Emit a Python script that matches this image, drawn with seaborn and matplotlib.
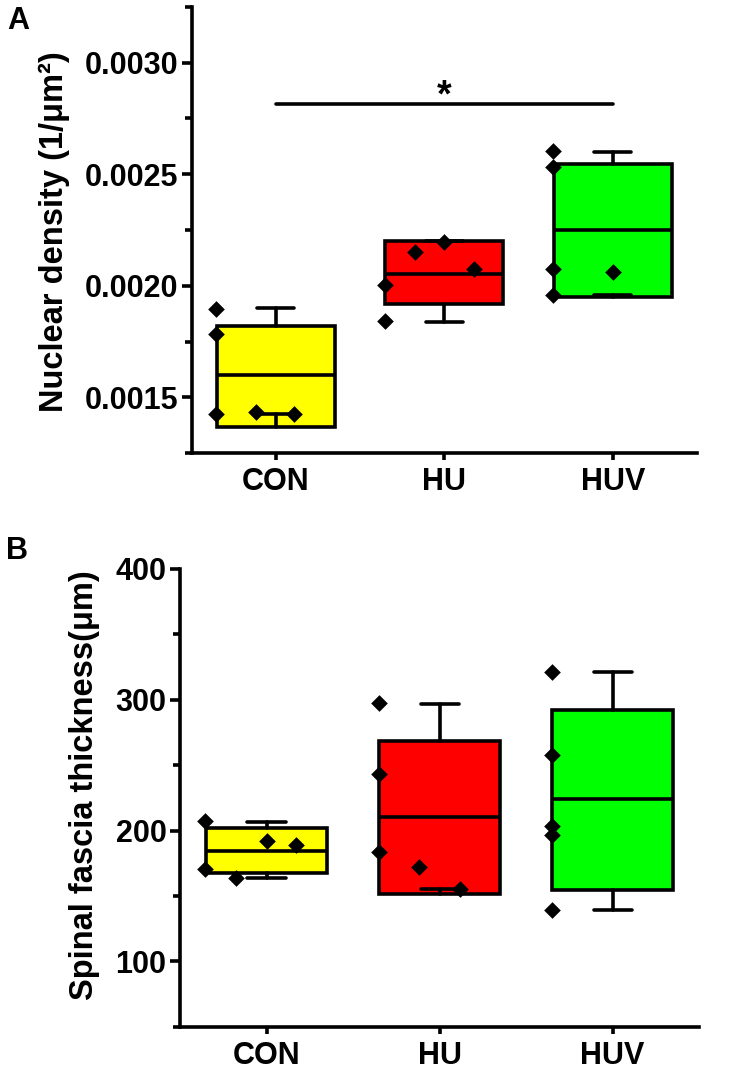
import numpy as np
import pandas as pd
import matplotlib
matplotlib.use("Agg")
import matplotlib.pyplot as plt
from matplotlib.ticker import FixedLocator
import seaborn as sns

# ---------------- data ----------------
categories = ["CON", "HU", "HUV"]
box_colors = ["#FFFF00", "#FF0000", "#00FF00"]

# Panel A: nuclear density (1/um^2) box statistics (Origin style: box 25-75%, whiskers min-max)
density_q1 = [0.00137, 0.00192, 0.00195]
density_med = [0.00160, 0.002055, 0.00225]
density_q3 = [0.00182, 0.00220, 0.002545]
density_lo = [0.001425, 0.00184, 0.00196]
density_hi = [0.00190, 0.00220, 0.00260]

# Panel A raw points
density_con = [0.001895, 0.001783, 0.001425, 0.001437, 0.001425]
density_hu = [0.002004, 0.001842, 0.002153, 0.002194, 0.002077]
density_huv = [0.002604, 0.002530, 0.002077, 0.001957, 0.002060]
density_con_off = [-0.355, -0.355, -0.355, -0.12, 0.11]
density_hu_off = [-0.352, -0.352, -0.176, 0.0, 0.174]
density_huv_off = [-0.354, -0.354, -0.354, -0.354, 0.0]
density_sig_y = 0.002812

# Panel B: spinal fascia thickness (um)
thick_q1 = [167.5, 151.5, 154.8]
thick_med = [184.6, 210.0, 224.1]
thick_q3 = [201.9, 268.8, 292.3]
thick_lo = [163.7, 155.3, 139.5]
thick_hi = [206.5, 297.0, 321.1]

thick_con = [207.0, 170.8, 163.7, 192.2, 189.2]
thick_hu = [297.4, 243.4, 183.3, 171.8, 155.5]
thick_huv = [321.1, 257.9, 203.7, 196.8, 139.5]
thick_con_off = [-0.354, -0.354, -0.177, 0.0, 0.172]
thick_hu_off = [-0.352, -0.352, -0.352, -0.118, 0.116]
thick_huv_off = [-0.35, -0.35, -0.35, -0.35, -0.35]

# ---------------- style ----------------
sns.set_style("ticks")
plt.rcParams['font.family'] = ['Liberation Sans', 'DejaVu Sans']
plt.rcParams['font.weight'] = 'bold'
for k in ['text.color', 'axes.labelcolor', 'xtick.color', 'ytick.color', 'axes.edgecolor']:
    plt.rcParams[k] = 'black'

LW = 2.6
FS_TICK = 22
FS_LABEL = 23.5

fig = plt.figure(figsize=(7.47, 10.78), dpi=100)
axA = fig.add_axes([0.2566, 0.5795, 0.6764, 0.4143])
axB = fig.add_axes([0.2410, 0.0476, 0.6948, 0.4246])


def draw_panel(ax, q1, med, q3, lo, hi, groups, offsets):
    stats = []
    for i in range(len(categories)):
        stats.append(dict(med=med[i], q1=q1[i], q3=q3[i], whislo=lo[i], whishi=hi[i], fliers=[]))
    bp = ax.bxp(stats, positions=list(range(len(categories))), widths=0.7,
                patch_artist=True, showfliers=False, manage_ticks=False,
                capwidths=0.22,
                boxprops=dict(edgecolor='black', linewidth=LW),
                medianprops=dict(color='black', linewidth=LW),
                whiskerprops=dict(color='black', linewidth=LW),
                capprops=dict(color='black', linewidth=LW, solid_capstyle='round'))
    for patch, c in zip(bp['boxes'], box_colors):
        patch.set_facecolor(c)
        patch.set_zorder(2)
    xs, ys = [], []
    for i, (vals, offs) in enumerate(zip(groups, offsets)):
        for v, o in zip(vals, offs):
            xs.append(i + o)
            ys.append(v)
    df = pd.DataFrame({"x": xs, "y": ys})
    sns.scatterplot(data=df, x="x", y="y", marker='D', s=72, color='black',
                    linewidth=0, ax=ax, zorder=5, legend=False)
    ax.set_xlim(-0.5, 2.5)
    ax.xaxis.set_major_locator(FixedLocator(range(len(categories))))
    ax.set_xticklabels(categories)
    ax.set_xlabel("")
    for s in ['top', 'right']:
        ax.spines[s].set_visible(False)
    for s in ['left', 'bottom']:
        ax.spines[s].set_linewidth(LW)
        ax.spines[s].set_color('black')
    ax.tick_params(axis='y', which='major', direction='out', length=7.2, width=LW,
                   labelsize=FS_TICK, pad=2.5, colors='black')
    ax.tick_params(axis='y', which='minor', direction='out', length=4.8, width=LW, colors='black')
    ax.tick_params(axis='x', which='major', direction='out', length=5.3, width=LW,
                   labelsize=FS_TICK, pad=4.8, colors='black')
    ax.tick_params(axis='x', which='minor', length=0)
    for lab in ax.get_xticklabels() + ax.get_yticklabels():
        lab.set_fontweight('bold')


# Panel A
draw_panel(axA, density_q1, density_med, density_q3, density_lo, density_hi,
           [density_con, density_hu, density_huv],
           [density_con_off, density_hu_off, density_huv_off])
axA.set_ylim(0.00125, 0.00325)
axA.yaxis.set_major_locator(FixedLocator([0.0015, 0.0020, 0.0025, 0.0030]))
axA.yaxis.set_minor_locator(FixedLocator([0.00125, 0.00175, 0.00225, 0.00275, 0.00325]))
axA.set_yticklabels(["0.0015", "0.0020", "0.0025", "0.0030"], fontweight='bold')
axA.set_ylabel("Nuclear density (1/\u03bcm\u00b2)", fontsize=FS_LABEL, fontweight='bold')
axA.yaxis.set_label_coords(-0.241, 0.496)
axA.plot([0, 2], [density_sig_y, density_sig_y], color='black', linewidth=LW,
         solid_capstyle='round', zorder=3)
axA.text(1, density_sig_y - 0.000008, "*", ha='center', va='baseline',
         fontsize=27, fontweight='bold', color='black')

# Panel B
draw_panel(axB, thick_q1, thick_med, thick_q3, thick_lo, thick_hi,
           [thick_con, thick_hu, thick_huv],
           [thick_con_off, thick_hu_off, thick_huv_off])
axB.set_ylim(50, 400)
axB.yaxis.set_major_locator(FixedLocator([100, 200, 300, 400]))
axB.yaxis.set_minor_locator(FixedLocator([50, 150, 250, 350]))
axB.set_yticklabels(["100", "200", "300", "400"], fontweight='bold')
axB.set_ylabel("Spinal fascia thickness(\u03bcm)", fontsize=FS_LABEL, fontweight='bold')
axB.yaxis.set_label_coords(-0.154, 0.528)

# panel letters
fig.text(7 / 747, 1 - 29 / 1078, "A", ha='left', va='baseline', fontsize=22, fontweight='bold')
fig.text(6 / 747, 1 - 559 / 1078, "B", ha='left', va='baseline', fontsize=22, fontweight='bold')

fig.savefig("out.png", dpi=100, facecolor='white')
